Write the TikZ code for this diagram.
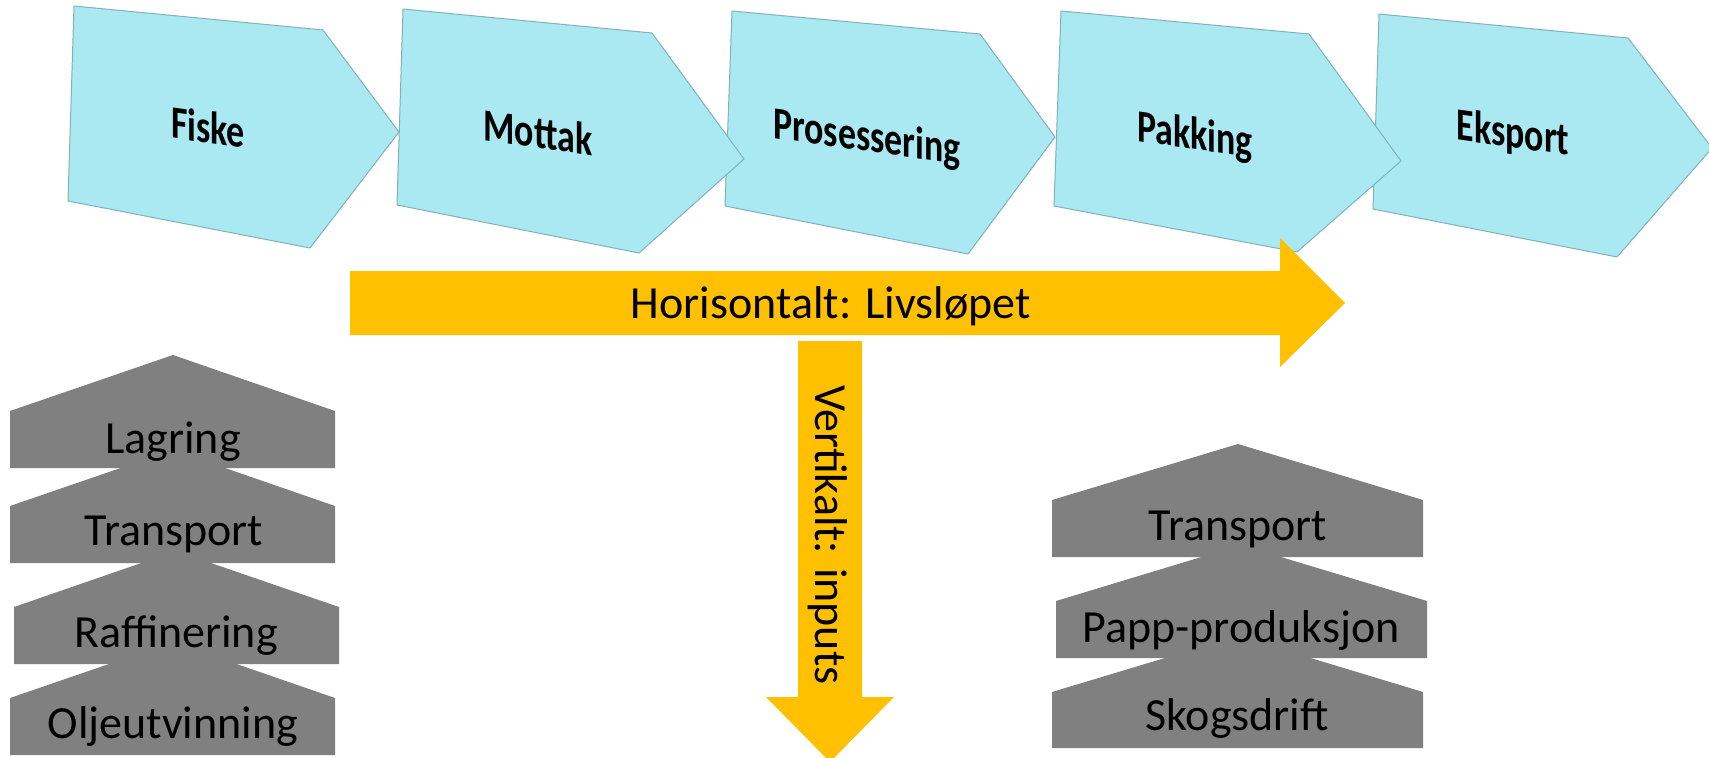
\documentclass[tikz,border=0pt]{standalone}
\usepackage{fontspec}
\setmainfont{Carlito}
\usepackage{tikz}
\usetikzlibrary{calc,positioning}

\definecolor{chevblue}{RGB}{170,232,242}
\definecolor{chevline}{RGB}{128,178,186}
\definecolor{arrowyellow}{RGB}{255,192,0}
\definecolor{housegray}{RGB}{128,128,128}

\newcommand{\chevlabel}[1]{\scalebox{0.78}[1]{#1}}

\begin{document}
\begin{tikzpicture}[x=1pt,y=-1pt,
    chev/.style={fill=chevblue, draw=chevline, line width=1pt, line join=round},
    chevtext/.style={font=\bfseries\fontsize{46}{52}\selectfont, yslant=-0.14},
    house/.style={fill=housegray},
    housetext/.style={font=\fontsize{46}{52}\selectfont, anchor=base},
    bigarrow/.style={fill=arrowyellow},
    arrowtext/.style={font=\fontsize{46}{52}\selectfont}]
    \fill[white] (0,0) rectangle (1709,758);
    \useasboundingbox (0,0) rectangle (1709,758);
    % livslop, drawn right to left
    \filldraw[chev] (1379,14) -- (1628,38) -- (1712,148) -- (1617,257) -- (1373,209) -- cycle;
    \filldraw[chev] (1061,11) -- (1309,34) -- (1401,161) -- (1297,252) -- (1054,206) -- cycle;
    \filldraw[chev] (732,11) -- (980,34) -- (1055,137) -- (968,254) -- (725,206) -- cycle;
    \filldraw[chev] (403,9) -- (652,33) -- (744,159) -- (639,253) -- (397,205) -- cycle;
    \filldraw[chev] (74,6) -- (323,30) -- (399,132) -- (310,248) -- (68,201) -- cycle;
    \node[chevtext] (fiske) at (208,127) {\chevlabel{Fiske}};
    \node[chevtext] (mottak) at (538,132) {\chevlabel{Mottak}};
    \node[chevtext] (prosess) at (867,139) {\chevlabel{Prosessering}};
    \node[chevtext] (pakking) at (1195,137) {\chevlabel{Pakking}};
    \node[chevtext] (eksport) at (1513,135) {\chevlabel{Eksport}};
    % piler
    \fill[bigarrow] (350,271) -- (1280,271) -- (1280,238) -- (1345,303) -- (1280,367) -- (1280,335) -- (350,335) -- cycle;
    \fill[bigarrow] (798,341) -- (862,341) -- (862,697) -- (894,697) -- (830,762) -- (766,697) -- (798,697) -- cycle;
    \node[arrowtext, anchor=base] (horis) at (831,318) {Horisontalt: Livsløpet};
    \node[arrowtext, rotate=-90] (vert) at (828,535) {Vertikalt: inputs};
    % olje
    \fill[house] (10,755) -- (10,698) -- (173,642) -- (335,698) -- (335,755) -- cycle;
    \fill[house] (14,664) -- (14,607) -- (176,551) -- (339,607) -- (339,664) -- cycle;
    \fill[house] (10,563) -- (10,506) -- (173,450) -- (335,506) -- (335,563) -- cycle;
    \fill[house] (10,468) -- (10,411) -- (173,355) -- (335,411) -- (335,468) -- cycle;
    \node[housetext] (lagring) at (173,453) {Lagring};
    \node[housetext] (transportA) at (174,545) {Transport};
    \node[housetext] (raff) at (176,647) {Raffinering};
    \node[housetext] (olje) at (173,738) {Oljeutvinning};
    % papp
    \fill[house] (1052,748) -- (1052,692) -- (1238,636) -- (1423,692) -- (1423,748) -- cycle;
    \fill[house] (1056,658) -- (1056,601) -- (1241,545) -- (1427,601) -- (1427,658) -- cycle;
    \fill[house] (1052,557) -- (1052,500) -- (1238,444) -- (1423,500) -- (1423,557) -- cycle;
    \node[housetext] (transportB) at (1238,540) {Transport};
    \node[housetext] (papp) at (1241,642) {Papp-produksjon};
    \node[housetext] (skog) at (1237,730) {Skogsdrift};
\end{tikzpicture}
\end{document}
